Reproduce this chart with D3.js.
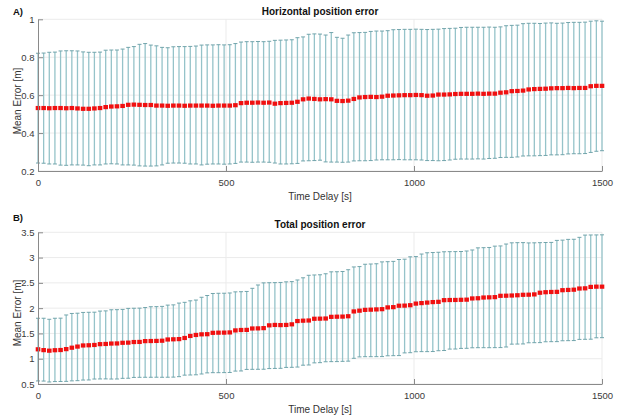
<!DOCTYPE html>
<html>
<head>
<meta charset="utf-8">
<script src="https://cdn.jsdelivr.net/npm/d3@7"></script>
<style>
  body { margin: 0; background: #fff; }
  svg { display: block; }
  text { font-family: "Liberation Sans Narrow", "Arial Narrow", "Liberation Sans", Arial, sans-serif; }
</style>
</head>
<body>
<svg id="chart" width="618" height="419"></svg>
<script>
// time delays [s], one error bar every 15 s
var timeDelay = d3.range(0, 1501, 15);

// A) horizontal position error [m]
var hMean = [
  0.532,0.532,0.531,0.532,0.532,0.531,0.532,0.530,
  0.528,0.528,0.530,0.532,
  0.537,0.540,0.541,0.543,
  0.549,0.550,0.549,0.548,0.548,
  0.545,0.545,0.544,0.545,0.545,0.544,0.545,0.545,
  0.545,0.545,0.544,0.545,0.545,0.545,0.547,
  0.558,0.560,0.560,0.561,0.560,0.561,
  0.555,
  0.558,0.559,0.560,0.565,
  0.578,0.582,0.580,
  0.578,0.579,0.578,
  0.570,0.569,0.571,
  0.580,
  0.588,0.590,0.591,0.590,0.592,
  0.597,0.598,0.599,0.600,0.600,0.601,
  0.600,0.597,0.598,
  0.603,0.603,0.604,
  0.606,0.607,0.607,0.607,0.608,0.607,0.608,0.608,
  0.613,0.615,
  0.621,0.622,0.624,
  0.630,0.632,0.633,0.634,
  0.636,0.637,0.637,0.638,0.637,0.638,0.638,
  0.647,0.649,0.649
];
var hUpper = [
  0.821,0.822,
  0.826,0.827,
  0.833,0.834,0.834,0.833,
  0.828,0.826,0.826,0.827,
  0.837,0.838,0.838,0.843,
  0.852,0.856,
  0.868,0.872,
  0.864,0.860,
  0.852,0.850,
  0.855,0.856,0.856,0.857,0.859,
  0.864,0.865,0.865,0.866,0.865,0.866,0.872,
  0.880,0.882,0.882,0.883,0.882,0.884,
  0.889,0.890,0.891,0.892,
  0.903,0.907,
  0.921,0.923,0.922,
  0.917,
  0.930,
  0.905,0.900,
  0.917,
  0.929,0.930,0.931,
  0.936,0.938,0.938,0.940,
  0.945,0.946,0.947,0.947,0.948,
  0.947,0.946,0.947,0.948,
  0.951,0.952,0.953,
  0.957,0.958,0.958,0.958,0.958,0.959,0.958,0.960,
  0.966,0.968,0.969,
  0.977,0.979,0.979,0.978,
  0.980,0.981,0.979,0.980,
  0.983,0.984,0.984,0.985,
  0.990,0.992,0.990
];
var hLower = [
  0.242,0.241,
  0.237,0.237,
  0.231,0.230,
  0.232,0.232,0.231,
  0.228,
  0.232,0.232,
  0.237,0.238,0.237,
  0.232,0.232,0.231,
  0.227,0.226,0.226,0.227,
  0.232,
  0.241,0.242,0.242,0.241,
  0.237,0.237,0.232,0.236,0.237,0.237,0.236,0.237,0.240,
  0.247,0.247,0.246,0.247,0.247,0.246,
  0.242,
  0.237,0.237,0.238,0.240,
  0.253,0.254,0.255,
  0.257,
  0.248,0.247,0.247,0.246,0.247,
  0.253,0.254,0.254,0.255,
  0.258,0.259,0.259,0.259,0.260,0.259,0.259,
  0.259,0.258,0.255,0.255,
  0.254,0.255,0.258,
  0.262,0.263,0.263,0.263,0.264,0.263,
  0.266,0.267,
  0.271,0.272,0.272,0.274,
  0.279,0.280,0.280,0.281,0.282,
  0.285,0.285,0.286,
  0.290,0.291,0.291,0.292,
  0.298,
  0.304,0.307
];

// B) total position error [m]
var tMean = [
  1.186,1.170,1.159,1.168,1.172,
  1.190,1.218,1.240,
  1.262,1.266,1.272,
  1.288,1.292,1.300,1.302,
  1.315,1.318,1.330,1.332,
  1.348,1.350,1.352,1.356,
  1.380,1.384,1.388,1.410,
  1.450,1.470,
  1.482,1.485,
  1.512,1.515,1.516,1.520,
  1.560,1.568,1.570,
  1.598,1.600,1.605,
  1.660,1.668,1.665,1.668,1.680,
  1.745,1.752,1.756,
  1.790,1.792,1.795,
  1.828,1.831,1.833,1.840,
  1.935,1.950,
  1.966,1.970,1.975,1.980,
  2.015,2.020,
  2.048,2.050,2.058,
  2.090,2.100,2.110,
  2.120,2.125,
  2.158,2.161,2.162,2.165,2.168,
  2.192,2.196,
  2.210,2.214,2.218,
  2.244,2.246,2.250,2.255,
  2.264,2.266,2.272,
  2.305,2.315,2.320,2.322,
  2.355,2.360,2.365,
  2.388,2.392,
  2.420,2.425,2.425
];
var tUpper = [
  1.800,1.800,1.780,1.800,1.802,
  1.865,1.895,1.900,
  1.915,1.918,1.920,
  1.942,1.946,
  1.968,1.970,1.975,
  1.995,1.998,2.000,
  2.012,
  2.028,2.030,2.035,
  2.060,2.065,
  2.100,2.115,
  2.145,2.160,
  2.215,2.250,
  2.290,2.294,2.295,2.300,
  2.322,2.325,2.330,
  2.392,2.458,
  2.500,2.503,2.505,2.508,
  2.520,2.525,
  2.557,2.600,
  2.650,2.656,2.660,
  2.680,
  2.718,2.720,2.725,
  2.760,
  2.815,2.822,
  2.868,2.873,2.878,
  2.915,2.919,2.925,
  2.962,2.968,
  3.015,3.020,
  3.070,3.095,3.100,3.105,
  3.115,3.117,3.118,3.120,
  3.130,3.150,
  3.192,3.196,3.200,
  3.226,3.230,
  3.268,
  3.292,3.295,3.296,
  3.290,3.292,
  3.295,3.298,3.300,
  3.340,3.345,
  3.360,3.362,
  3.400,
  3.445,3.447,3.448,
  3.450
];
var tLower = [
  0.560,0.558,
  0.540,
  0.548,0.550,0.552,
  0.562,0.566,
  0.578,0.580,
  0.598,0.600,0.601,
  0.598,0.599,
  0.612,0.614,
  0.630,0.632,0.633,0.633,0.634,0.633,0.634,0.636,
  0.645,
  0.675,0.678,0.682,
  0.698,
  0.720,0.724,0.724,0.725,0.728,
  0.755,0.758,
  0.788,0.790,0.791,0.792,
  0.805,
  0.808,0.810,
  0.828,0.830,0.835,
  0.872,0.876,
  0.918,0.922,
  0.940,0.942,0.943,
  0.948,0.952,
  1.008,
  1.036,1.040,1.040,1.041,1.042,
  1.058,1.060,1.062,
  1.115,1.119,
  1.138,1.140,1.140,1.142,
  1.158,1.162,
  1.190,1.192,
  1.204,1.206,
  1.216,1.218,1.218,1.218,1.219,1.220,
  1.232,
  1.288,1.290,1.292,
  1.315,1.317,1.318,
  1.335,1.337,1.338,
  1.355,1.357,1.359,
  1.382,1.384,1.386,
  1.414,1.416
];

var xTicks = [0, 500, 1000, 1500];
var hTicks = [0.2, 0.4, 0.6, 0.8, 1];
var tTicks = [0.5, 1, 1.5, 2, 2.5, 3, 3.5];

var svg = d3.select("#chart");
var x = d3.scaleLinear().domain([0, 1500]).range([38, 602]);

function drawPanel(opt)
{
	var y = d3.scaleLinear().domain(opt.domain).range([opt.bottom, opt.top]);
	var g = svg.append("g").attr("class", "panel");

	// grid
	g.append("g").selectAll("line.hgrid")
	  .data(opt.yTicks)
	  .enter().append("line")
	  .attr("x1", x.range()[0]).attr("x2", x.range()[1])
	  .attr("y1", function(d){ return y(d); })
	  .attr("y2", function(d){ return y(d); })
	  .attr("stroke", "#ebebeb").attr("stroke-width", 1);
	g.append("g").selectAll("line.vgrid")
	  .data(xTicks.slice(1))
	  .enter().append("line")
	  .attr("x1", function(d){ return x(d); })
	  .attr("x2", function(d){ return x(d); })
	  .attr("y1", opt.top).attr("y2", opt.bottom)
	  .attr("stroke", "#ebebeb").attr("stroke-width", 1);

	// error bars
	var bars = g.append("g").selectAll("g")
	  .data(timeDelay)
	  .enter().append("g");
	bars.append("line")
	  .attr("x1", function(d){ return x(d); })
	  .attr("x2", function(d){ return x(d); })
	  .attr("y1", function(d, i){ return y(opt.lower[i]); })
	  .attr("y2", function(d, i){ return y(opt.upper[i]); })
	  .attr("stroke", "#95c3c9").attr("stroke-width", 1.3);
	bars.append("line")
	  .attr("x1", function(d){ return x(d) - 2; })
	  .attr("x2", function(d){ return x(d) + 2; })
	  .attr("y1", function(d, i){ return y(opt.upper[i]); })
	  .attr("y2", function(d, i){ return y(opt.upper[i]); })
	  .attr("stroke", "#72a4ab").attr("stroke-width", 1);
	bars.append("line")
	  .attr("x1", function(d){ return x(d) - 2; })
	  .attr("x2", function(d){ return x(d) + 2; })
	  .attr("y1", function(d, i){ return y(opt.lower[i]); })
	  .attr("y2", function(d, i){ return y(opt.lower[i]); })
	  .attr("stroke", "#72a4ab").attr("stroke-width", 1);

	// mean markers
	g.append("g").selectAll("rect")
	  .data(timeDelay)
	  .enter().append("rect")
	  .attr("x", function(d){ return x(d) - 2.3; })
	  .attr("y", function(d, i){ return y(opt.mean[i]) - 2.1; })
	  .attr("width", 4.6).attr("height", 4.2)
	  .attr("fill", "#f01010");

	// axes
	var ax = g.append("g")
	  .attr("transform", "translate(0," + opt.bottom + ")")
	  .call(d3.axisBottom(x).tickValues(xTicks).tickSizeInner(-5).tickSizeOuter(0).tickPadding(8).tickFormat(d3.format("d")));
	var ay = g.append("g")
	  .attr("transform", "translate(" + x.range()[0] + ",0)")
	  .call(d3.axisLeft(y).tickValues(opt.yTicks).tickSizeInner(-5).tickSizeOuter(0).tickPadding(3.5).tickFormat(d3.format("~g")));
	[ax, ay].forEach(function(a){
		a.select(".domain").attr("stroke", "#8a8a8a");
		a.selectAll(".tick line").attr("stroke", "#8a8a8a");
		a.selectAll("text").attr("fill", "#3a3a3a")
		  .style("font-family", "'Liberation Sans Narrow', 'Arial Narrow', 'Liberation Sans', sans-serif")
		  .style("font-size", "9.5px");
	});

	// labels
	g.append("text")
	  .attr("x", 320).attr("y", opt.top - 4)
	  .attr("text-anchor", "middle")
	  .attr("font-size", "10px").attr("font-weight", "bold").attr("fill", "#111")
	  .text(opt.title);
	g.append("text")
	  .attr("x", 13).attr("y", opt.tagY)
	  .attr("font-size", "9.5px").attr("font-weight", "bold").attr("fill", "#111")
	  .text(opt.tag);
	g.append("text")
	  .attr("x", 320).attr("y", opt.bottom + 28.5)
	  .attr("text-anchor", "middle")
	  .attr("font-size", "10px").attr("fill", "#333")
	  .text("Time Delay [s]");
	g.append("text")
	  .attr("transform", "translate(21," + opt.labelY + ") rotate(-90)")
	  .attr("text-anchor", "middle")
	  .attr("font-size", "10px").attr("fill", "#333")
	  .text("Mean Error [m]");
}

drawPanel({
	tag: "A)", tagY: 15, title: "Horizontal position error",
	domain: [0.2, 1], top: 19.3, bottom: 171, yTicks: hTicks, labelY: 101,
	mean: hMean, upper: hUpper, lower: hLower
});
drawPanel({
	tag: "B)", tagY: 221, title: "Total position error",
	domain: [0.5, 3.5], top: 232.3, bottom: 384, yTicks: tTicks, labelY: 313,
	mean: tMean, upper: tUpper, lower: tLower
});
</script>
</body>
</html>
